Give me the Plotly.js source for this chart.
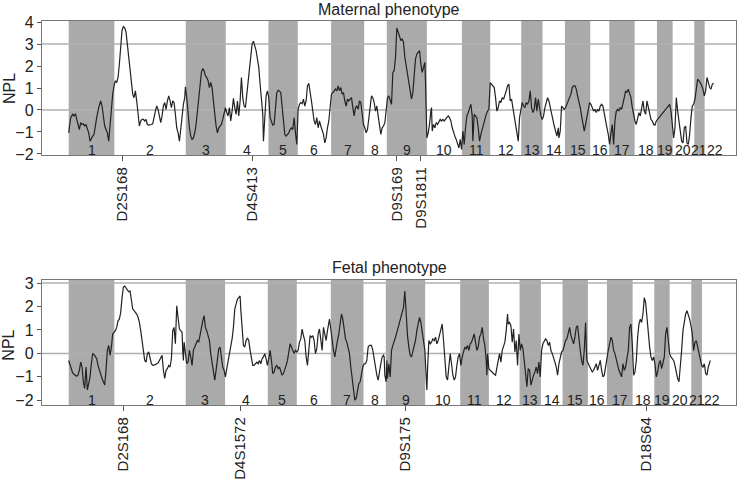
<!DOCTYPE html>
<html>
<head>
<meta charset="utf-8">
<script src="https://cdn.plot.ly/plotly-3.0.1.min.js"></script>
<style>html,body{margin:0;padding:0;background:#fff;}#chart{width:740px;height:482px;}</style>
</head>
<body>
<div id="chart"></div>
<script>
// Genome position (arbitrary map units) and NPL scores
const chromosomes = ["1","2","3","4","5","6","7","8","9","10","11","12","13","14","15","16","17","18","19","20","21","22"];

const maternalChromStart = [80,217,431,551,679,767,867,966,1034,1154,1259,1344,1437,1501,1568,1644,1701,1777,1844,1891,1956,1987];
const maternalChromEnd = 2050;
const fetalChromStart = [80,217,431,549,677,764,866,964,1031,1149,1254,1340,1432,1496,1561,1637,1694,1771,1836,1882,1947,1979];
const fetalChromEnd = 2040;

const maternalMarkerPos = [241, 631, 1064, 1136];
const maternalMarkerNames = ["D2S168", "D4S413", "D9S169", "D9S1811"];
const fetalMarkerPos = [244, 594, 1089, 1812];
const fetalMarkerNames = ["D2S168", "D4S1572", "D9S175", "D18S64"];

const maternalPos = [
80,86,92,96,100,104,108,112,116,120,124,128,132,136,140,144,148,152,156,160,
164,170,176,180,184,188,192,196,200,204,208,212,216,220,224,228,232,236,240,244,
248,252,256,260,264,268,272,276,280,284,288,292,296,300,304,308,312,316,320,324,
328,332,336,340,344,348,352,356,360,364,368,372,376,380,384,388,392,396,400,404,
408,412,416,420,424,428,430,434,438,442,446,450,454,458,462,466,470,474,478,482,
486,490,494,498,502,506,510,514,518,522,526,530,534,538,542,546,550,554,558,562,
566,570,574,578,582,586,590,594,598,602,606,610,614,618,622,626,630,634,638,642,
646,650,654,658,662,664,668,672,676,680,684,688,692,696,700,704,708,712,716,720,
724,728,732,736,740,744,748,752,756,760,764,768,772,776,780,784,788,792,796,800,
804,808,812,816,820,824,828,832,836,840,844,848,852,856,860,864,868,872,876,880,
884,888,892,896,900,904,908,912,916,920,924,928,932,936,940,944,948,952,956,960,
964,968,972,976,980,
984,988,992,996,1000,1004,1008,1012,1016,1020,1024,1028,1032,1036,1040,1044,1048,1052,1056,1060,
1064,1068,1072,1076,1080,1084,1088,1092,1096,1100,1104,1108,1112,1116,1120,1124,1128,1132,1136,1140,
1144,1148,1150,1152,1154,1158,1162,1166,1168,1170,1174,1178,1182,1186,1190,1194,1198,1202,1206,1210,
1214,1218,1222,1226,1230,1234,1238,1242,1246,1250,1254,1258,1262,1266,1270,1274,1278,1282,1286,1290,
1292,1296,1300,1304,1308,1312,1316,1320,1324,1328,1332,1336,1340,1344,1348,1352,1356,1360,1364,1368,
1372,1376,1380,1384,1388,1392,1396,1400,1404,1408,1412,1416,1420,1424,1428,1432,1436,1440,1444,1448,
1452,1456,1460,1464,1468,1472,1476,1480,1484,1488,1492,1496,1500,1504,1508,1512,1516,1520,1524,1528,
1532,1536,1540,1544,1548,1550,1554,1558,1562,1566,1570,1574,1578,1582,1586,1590,1594,1598,1602,1606,
1610,1614,1618,1622,1626,1630,1634,1638,1642,1646,1650,1654,1658,1662,1666,1670,1674,1678,1682,1686,
1690,1694,1698,1702,1706,1710,1714,1718,1722,1726,1730,1734,1738,1742,1746,1750,1754,1758,1762,1766,
1770,1774,1778,1782,1786,1790,1794,1798,1802,1806,1810,1814,1818,1822,1826,1830,1834,1838,1842,1846,
1850,1854,1858,1862,1866,1870,1874,1878,1882,1886,1890,1894,1898,1902,1906,1910,1914,1918,1922,1926,
1930,1934,1938,1942,1946,1950,1954,1958,1962,1966,1970,1974,1978,1982,1986,1990,1994,1998,2002,2006,
2010,2014
];
const maternalNPL = [
-1.04,-0.35,-0.20,-0.27,-0.17,-0.43,-0.73,-0.89,-0.58,-0.66,-0.63,-0.73,-0.66,-0.81,-1.04,-1.42,-1.27,-1.19,-1.11,-0.81,
-0.35,0.11,0.41,0.18,-0.27,-0.73,-0.89,-1.04,-1.42,-0.66,-0.05,0.72,1.10,1.33,1.25,1.48,2.09,2.70,3.62,3.80,
3.74,3.54,3.01,2.40,1.94,1.18,0.72,0.56,0.87,0.41,-0.20,-0.73,-0.50,-0.43,-0.43,-0.50,-0.43,-0.66,-0.69,-0.69,
-0.66,-0.63,-0.27,-0.05,0.18,0.03,-0.27,-0.58,-0.27,0.18,0.34,0.03,0.41,0.64,0.41,0.11,0.41,0.34,-0.20,-0.81,
-1.04,-1.42,-0.89,-0.27,0.26,0.56,1.05,0.56,-0.20,-0.81,-1.19,-1.34,-1.27,-1.04,-0.66,-0.05,0.56,1.18,1.71,1.89,
1.79,1.56,1.48,1.33,1.02,1.25,1.02,0.41,-0.20,-0.73,-1.04,-0.81,-0.73,-0.66,-0.43,-0.20,0.11,-0.12,-0.27,0.11,
-0.50,-0.05,0.53,0.11,-0.20,0.41,-0.27,0.41,1.48,0.56,0.18,0.11,0.72,1.18,1.86,2.40,3.01,3.13,2.93,2.70,
2.32,1.94,1.18,0.41,-0.20,-1.42,-0.35,0.64,0.87,0.56,-0.35,-0.58,-0.69,-0.66,-0.05,0.79,0.90,0.87,0.79,0.11,
-0.66,-1.11,-1.19,-1.11,-1.04,-0.89,-0.81,-0.89,-0.35,-1.04,-1.57,0.03,0.26,0.34,0.29,0.49,0.18,0.41,1.10,1.21,
0.87,0.41,-0.05,-0.50,-0.66,-0.35,-0.81,-0.50,-0.73,-0.96,-1.11,-1.50,-1.27,-0.81,-0.50,0.11,0.72,0.79,0.87,0.95,
0.87,1.10,0.87,1.02,0.72,0.79,0.41,0.18,0.49,0.41,0.49,0.56,0.11,-0.27,0.11,0.18,0.03,0.41,0.34,-0.20,
-0.66,-0.81,-1.04,-0.89,-0.35,
0.11,0.64,0.56,0.34,-0.05,0.18,-0.27,-0.66,-1.11,-0.81,-0.73,-0.58,0.11,0.56,0.64,0.41,0.26,1.71,1.79,2.40,
3.74,3.54,3.31,3.16,3.24,3.08,2.40,2.02,1.71,1.33,0.95,0.49,0.79,1.48,2.32,2.55,2.63,2.70,2.09,1.71,
1.94,2.17,1.25,0.26,-1.27,-1.04,-0.66,-0.05,0.11,-0.96,-0.66,-0.81,-0.58,-0.66,-0.50,-0.43,-0.50,-0.43,-0.50,-0.43,
-0.35,-0.27,-0.35,-0.50,-0.81,-1.04,-1.19,-1.34,-1.57,-1.73,-1.34,-1.80,-0.96,-1.57,-0.81,-0.27,-0.12,0.11,0.26,-0.27,
-1.42,-0.20,-0.27,-0.35,-0.81,-1.42,-1.11,-0.89,-0.58,-0.35,-0.20,-0.05,0.03,1.25,1.18,1.10,1.02,0.56,-0.05,0.11,
0.41,0.34,0.56,0.49,0.64,0.87,1.10,1.18,0.41,0.49,0.11,-0.27,-0.73,-1.19,-1.42,-0.35,-0.05,0.34,0.18,0.11,
0.34,0.26,0.41,0.87,0.11,-0.12,0.03,0.56,-0.05,0.49,0.11,-0.27,-0.43,-0.27,0.11,0.34,0.56,0.41,0.11,-0.27,
-0.50,-0.73,-0.96,-1.19,-0.81,-1.27,-0.96,0.18,0.11,0.03,0.11,0.26,0.41,0.56,0.72,1.02,1.10,1.10,0.95,0.64,
0.41,0.11,-0.27,-0.58,-0.96,-0.66,-0.27,0.11,0.34,0.26,0.11,-0.05,0.03,-0.12,0.03,-0.05,0.18,0.26,0.18,-0.20,
-0.50,-0.81,-1.11,-1.57,-1.04,-0.66,-1.57,-0.50,-0.05,0.03,-0.05,0.11,0.03,0.26,0.56,0.87,0.79,0.95,0.79,0.56,
0.11,-0.27,-0.50,-0.66,-0.35,-0.12,-0.27,0.11,0.41,-0.05,-0.20,0.41,0.11,-0.27,-0.43,-0.50,-0.66,-0.69,-0.50,-0.43,
-0.35,-0.27,-0.20,-0.12,-0.05,0.03,0.11,0.18,0.26,-0.05,-0.81,-1.27,-0.81,0.56,-0.05,-0.50,-0.96,-1.42,-1.50,-0.81,
-0.73,-1.50,-1.57,-1.11,-0.35,0.18,0.26,0.49,0.95,1.40,1.33,1.25,1.10,0.95,0.64,0.87,1.48,1.25,1.02,0.95,
1.18,1.21
];

const fetalPos = [
80,84,88,92,96,100,104,108,112,116,120,124,128,132,136,140,144,148,152,156,
160,164,168,172,176,180,184,188,192,196,200,204,208,212,216,220,224,228,232,236,
240,244,248,252,256,260,264,268,272,276,280,284,288,292,296,300,304,308,312,316,
320,324,328,332,336,340,344,348,352,356,360,364,368,372,376,380,384,388,392,396,
400,404,408,412,416,420,422,424,426,430,434,438,442,446,450,454,458,462,466,470,
474,478,482,486,490,494,498,502,506,510,514,518,522,526,530,534,538,542,546,550,
554,558,562,566,570,574,578,582,586,590,594,596,600,604,608,612,616,620,624,628,
632,636,640,644,648,652,656,660,664,668,672,676,680,684,688,692,696,700,704,708,
712,716,720,724,728,732,736,740,744,748,752,756,760,764,768,772,776,780,784,788,
792,796,800,804,808,812,816,820,824,828,832,836,840,844,848,852,856,860,862,866,
870,874,878,882,886,890,894,898,902,906,910,914,918,922,926,930,934,938,942,946,
950,954,958,962,966,970,974,978,982,
984,988,992,996,1000,1004,1008,1012,1016,1020,1024,1026,1028,1032,1034,1036,1040,1044,1048,1052,
1056,1060,1064,1068,1072,1076,1080,1084,1088,1092,1096,1100,1104,1108,1112,1116,1120,1124,1128,1132,
1136,1140,1144,1148,1150,1154,1156,1160,1164,1168,1172,1176,1180,1184,1188,1192,1196,1200,1204,1208,
1212,1216,1220,1224,1228,1232,1236,1240,1244,1248,1252,1256,1260,1264,1268,1272,1276,1280,1284,1288,
1292,1296,1300,1304,1308,1312,1316,1320,1324,1328,1332,1334,1336,1340,1344,1348,1352,1356,1360,1364,
1368,1372,1376,1380,1384,1388,1392,1396,1398,1402,1406,1410,1414,1418,1422,1426,1430,1434,1438,1442,
1446,1450,1454,1458,1462,1466,1470,1474,1478,1482,1486,1490,1494,1498,1502,1506,1510,1514,1518,1522,
1526,1530,1534,1538,1542,1546,1550,1554,1558,1562,1566,1570,1574,1578,1582,1586,1590,1594,1598,1602,
1606,1610,1614,1618,1622,1626,1630,1632,1634,1638,1642,1646,1650,1654,1658,1662,1666,1670,1674,1678,
1682,1686,1690,1694,1698,1702,1706,1710,1714,1718,1722,1726,1730,1734,1738,1742,1746,1750,1754,1758,
1762,1766,1770,1774,1778,1782,1786,1790,1794,1798,1802,1806,1810,1814,1818,1822,1826,1830,1834,1838,
1842,1846,1850,1854,1858,1862,1866,1870,1874,1878,1882,1886,1890,1894,1898,1902,1906,1910,1914,1918,
1922,1926,1930,1934,1938,1942,1946,1950,1954,1958,1962,1966,1970,1974,1978,1982,1986,1990,1994,1998,
2002,2004
];
const fetalNPL = [
-0.30,-0.51,-0.72,-0.83,-0.89,-0.93,-0.97,-0.93,-0.72,-0.37,-0.58,-1.21,-1.49,-0.58,-1.56,-1.28,-1.00,-0.44,-0.01,-0.04,
-0.13,-0.23,-0.51,-0.72,-0.93,-1.07,-1.21,-1.35,-0.72,0.13,0.34,-0.08,0.27,0.83,0.90,0.97,1.11,1.39,1.46,1.75,
2.38,2.83,2.87,2.77,2.69,2.63,2.66,2.24,1.89,1.82,1.75,1.68,1.54,1.32,0.97,0.55,0.13,-0.30,-0.37,-0.01,
0.06,-0.23,-0.44,-0.51,-0.51,-0.48,-0.44,-0.41,-0.30,-0.15,-0.08,-0.72,-1.07,-0.72,-0.65,-0.51,-0.58,-0.23,0.97,1.11,
0.41,2.03,1.61,1.04,0.97,0.90,0.13,-0.30,0.48,-0.15,-0.44,-0.37,0.13,-0.15,-0.51,0.13,0.27,0.48,0.55,0.48,
0.83,1.04,1.39,1.61,1.11,0.97,0.76,0.55,-0.01,-0.44,-0.93,-1.14,-0.72,-0.15,0.20,0.27,-0.15,-0.58,-0.72,-1.00,
-0.65,-0.37,-0.01,0.27,0.62,1.11,1.89,2.10,2.31,2.38,2.45,1.89,1.11,0.34,0.27,0.55,0.66,0.55,0.13,-0.30,
-0.51,-0.51,-0.44,-0.37,-0.44,-0.30,-0.44,-0.23,-0.15,-0.01,-0.23,-0.51,-0.23,0.13,-0.30,-0.86,-0.79,-0.58,-0.51,-0.65,
-0.58,-0.72,-0.93,-0.86,-0.72,-0.51,-0.30,0.06,0.41,0.27,0.13,-0.01,0.13,0.06,0.13,0.48,0.62,1.04,0.76,0.55,
-0.15,-0.51,0.13,0.76,0.69,0.76,0.55,-0.01,0.20,0.83,1.04,0.55,0.13,1.11,0.83,0.55,0.97,1.32,1.46,1.04,
0.55,0.13,-0.15,0.27,0.55,0.83,1.18,1.68,1.46,0.97,0.62,0.48,0.20,-0.01,-0.58,-1.14,-1.56,-1.99,-1.92,-1.56,
-1.28,-1.21,-0.86,-0.58,-0.44,-0.44,-0.30,0.27,0.34,
0.34,0.34,0.13,-0.30,-0.72,-0.93,-1.14,-0.72,-0.44,-0.15,-0.08,-0.15,-0.93,-1.21,-0.30,-1.07,-0.44,-1.00,0.13,0.34,
0.48,0.69,0.90,1.11,1.25,1.54,1.75,1.96,2.66,1.54,0.76,0.27,-0.08,-0.15,0.06,0.27,0.55,0.97,1.32,1.54,
1.32,0.90,0.48,0.13,-0.44,-1.56,-0.72,0.55,0.41,0.48,0.62,0.55,0.69,0.41,0.55,0.83,1.04,1.25,0.55,-0.30,
-1.00,-1.14,-0.51,-0.01,-0.44,-0.93,-1.14,-1.00,-0.51,-0.15,-0.01,-0.51,-0.15,0.13,0.27,0.20,0.34,0.13,0.41,0.48,
0.69,0.83,0.48,0.13,0.27,0.69,0.83,1.11,0.62,0.34,-0.30,-0.93,-0.01,-0.65,-0.72,-0.79,-0.86,-0.89,-0.93,-0.51,
-0.30,-0.01,-0.37,0.13,0.27,0.48,0.97,1.68,1.25,1.32,1.18,0.48,1.04,0.06,0.55,-0.51,0.83,0.13,0.41,0.20,
-0.30,-1.00,-1.42,-0.65,-0.72,-1.35,-1.07,-0.93,-0.79,-0.58,-0.86,-0.37,-1.00,0.13,0.41,0.55,0.62,0.55,0.34,0.48,
0.13,-0.01,-0.15,-0.37,-0.58,-0.93,-0.44,-0.15,0.06,0.13,0.41,0.55,0.62,0.90,1.11,0.76,0.62,0.41,0.69,1.11,
1.18,0.55,0.13,-0.30,-0.51,0.13,1.32,0.27,-0.30,-0.44,-0.58,-0.72,-0.79,-0.72,-0.58,-0.44,-0.72,-0.51,-0.30,-0.72,
-1.00,-0.93,-0.51,-0.15,0.13,0.41,0.69,0.55,0.13,-0.01,-0.30,-0.51,-0.72,-0.86,-1.00,-0.44,-0.72,-0.58,-0.30,0.13,
1.11,1.25,0.41,-0.93,-0.79,-0.30,0.69,1.25,1.46,1.32,1.68,2.38,2.17,1.39,0.69,0.27,-0.15,-0.30,-0.15,-0.44,
-1.00,-0.79,-0.44,-0.30,-0.65,-0.44,-0.15,0.83,1.11,0.55,-0.01,-0.15,-0.23,-0.30,-0.51,-0.86,-1.07,-1.21,-0.65,0.13,
0.97,1.39,1.68,1.82,1.68,1.46,1.18,0.83,0.13,0.48,0.55,0.27,0.13,-0.15,-0.51,-0.58,-0.44,-0.86,-0.93,-0.58,
-0.44,-0.30
];

const FONT = "Liberation Sans, Arial, Helvetica, sans-serif";
const XRANGE = [0, 2081];

function bandShapes(starts, end, yref) {
  const shapes = [];
  for (let i = 0; i < starts.length; i++) {
    if (i % 2 === 0) {
      const x1 = i + 1 < starts.length ? starts[i + 1] : end;
      shapes.push({type: "rect", xref: "x" + (yref === "y" ? "" : "2"), yref: yref + " domain",
        x0: starts[i], x1: x1, y0: 0, y1: 1, fillcolor: "#aaaaaa", line: {width: 0}, layer: "below"});
    }
  }
  return shapes;
}
function refLines(yref, vals) {
  return vals.map(v => ({type: "line", xref: "paper", yref: yref, x0: 0, x1: 1, y0: v, y1: v,
    line: {color: "#b0b0b0", width: 1.5}, layer: "below"}));
}
function chromLabels(starts, end, xref, yref, yv) {
  return chromosomes.map((c, i) => {
    const x1 = i + 1 < starts.length ? starts[i + 1] : end;
    return {xref: xref, yref: yref, x: (starts[i] + x1) / 2, y: yv, text: c, showarrow: false,
      font: {family: FONT, size: 14, color: "#222"}, xanchor: "center", yanchor: "middle"};
  });
}

const traces = [
  {x: maternalPos, y: maternalNPL, xaxis: "x", yaxis: "y", mode: "lines",
   line: {color: "#222", width: 1.2}, hoverinfo: "skip", showlegend: false},
  {x: fetalPos, y: fetalNPL, xaxis: "x2", yaxis: "y2", mode: "lines",
   line: {color: "#222", width: 1.2}, hoverinfo: "skip", showlegend: false}
];

const axisCommon = {showgrid: false, zeroline: false, showline: true, linecolor: "#777", linewidth: 1.2,
  mirror: true, ticks: "outside", tickcolor: "#555", tickfont: {family: FONT, size: 16, color: "#222"}};
const markerFont = {family: FONT, size: 15, color: "#222"};

const layout = {
  width: 740, height: 482,
  margin: {l: 42, r: 4, t: 21, b: 77},
  paper_bgcolor: "#fff", plot_bgcolor: "#fff",
  xaxis: Object.assign({}, axisCommon, {domain: [0, 1], anchor: "y", range: XRANGE,
    tickvals: maternalMarkerPos, ticktext: maternalMarkerNames, tickangle: -90, ticklen: 5, tickfont: markerFont}),
  yaxis: Object.assign({}, axisCommon, {domain: [0.651, 1], anchor: "x", range: [-2.05, 4.05],
    tickvals: [-2, -1, 0, 1, 2, 3, 4], ticklen: 4}),
  xaxis2: Object.assign({}, axisCommon, {domain: [0, 1], anchor: "y2", range: XRANGE,
    tickvals: fetalMarkerPos, ticktext: fetalMarkerNames, tickangle: -90, ticklen: 5, tickfont: markerFont}),
  yaxis2: Object.assign({}, axisCommon, {domain: [0, 0.3255], anchor: "x2", range: [-2.2, 3.13],
    tickvals: [-2, -1, 0, 1, 2, 3], ticklen: 4}),
  shapes: [].concat(
    bandShapes(maternalChromStart, maternalChromEnd, "y"),
    bandShapes(fetalChromStart, fetalChromEnd, "y2"),
    refLines("y", [0, 3]),
    refLines("y2", [0, 3])
  ),
  annotations: [].concat(
    chromLabels(maternalChromStart, maternalChromEnd, "x", "y", -1.8),
    chromLabels(fetalChromStart, fetalChromEnd, "x2", "y2", -1.98),
    [
      {xref: "paper", yref: "paper", x: 0.5, y: 1.031, text: "Maternal phenotype", showarrow: false,
       font: {family: FONT, size: 16, color: "#222"}, xanchor: "center", yanchor: "middle"},
      {xref: "paper", yref: "paper", x: 0.5, y: 0.359, text: "Fetal phenotype", showarrow: false,
       font: {family: FONT, size: 16, color: "#222"}, xanchor: "center", yanchor: "middle"},
      {xref: "paper", yref: "paper", x: -0.0476, y: 0.8255, text: "NPL", textangle: -90, showarrow: false,
       font: {family: FONT, size: 16, color: "#222"}, xanchor: "center", yanchor: "middle"},
      {xref: "paper", yref: "paper", x: -0.0476, y: 0.157, text: "NPL", textangle: -90, showarrow: false,
       font: {family: FONT, size: 16, color: "#222"}, xanchor: "center", yanchor: "middle"}
    ]
  )
};

Plotly.newPlot("chart", traces, layout, {staticPlot: true, displayModeBar: false});
</script>
</body>
</html>
